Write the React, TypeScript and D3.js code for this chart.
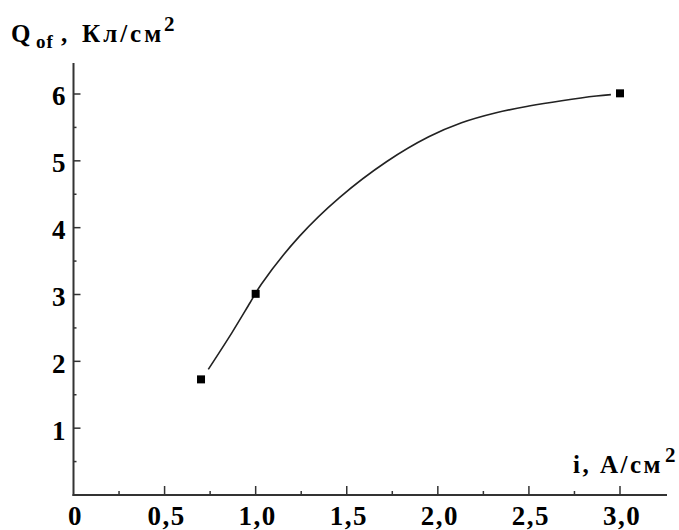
import * as d3 from "d3"

// measured points (markers)
const pointI = [0.7, 1.0, 3.0]
const pointQ = [1.73, 3.01, 6.01]

// fitted curve
const curveI = [0.74, 0.87, 0.97, 1.03, 1.24, 1.46, 1.72, 1.95, 2.13, 2.32, 2.5, 2.68, 2.87, 2.95]
const curveQ = [1.88, 2.43, 2.88, 3.15, 3.87, 4.45, 4.99, 5.36, 5.57, 5.72, 5.82, 5.9, 5.97, 5.99]

const xTicks = [0, 0.5, 1.0, 1.5, 2.0, 2.5, 3.0]
const xTickLabels = ["0", "0,5", "1,0", "1,5", "2,0", "2,5", "3,0"]
const yTicks = [1, 2, 3, 4, 5, 6]

const W = 679
const H = 530
const font = "'Liberation Serif', 'Times New Roman', serif"

export default function App() {
  const x = d3.scaleLinear().domain([0, 3]).range([73.5, 620])
  const y = d3.scaleLinear().domain([0, 6]).range([495, 94])

  const x0 = x(0)
  const y0 = y(0)
  const xEnd = 667
  const yTop = 63

  const minorX = d3.range(0.25, 3.25, 0.5)
  const minorY = d3.range(0.5, 6.5, 1)

  const line = d3
    .line<[number, number]>()
    .x((d) => x(d[0]))
    .y((d) => y(d[1]))
    .curve(d3.curveCatmullRom.alpha(0.5))

  const curve = curveI.map((v, i) => [v, curveQ[i]] as [number, number])
  const axisColor = "#333"

  return (
    <svg
      width={W}
      height={H}
      style={{ position: "absolute", left: 0, top: 0, background: "#fff" }}
      fontFamily={font}
      fontWeight="bold"
    >
      {/* axes */}
      <line x1={x0} x2={x0} y1={yTop} y2={y0 + 1} stroke={axisColor} strokeWidth={2} />
      <line x1={x0 - 1} x2={xEnd} y1={y0} y2={y0} stroke={axisColor} strokeWidth={2} />

      {yTicks.map((t) => (
        <g key={"y" + t}>
          <line x1={x0} x2={x0 + 7} y1={y(t)} y2={y(t)} stroke={axisColor} strokeWidth={1.5} />
          <text x={x0 - 8} y={y(t)} dy="0.42em" textAnchor="end" fontSize={27}>
            {t}
          </text>
        </g>
      ))}
      {minorY.map((t) => (
        <line key={"ym" + t} x1={x0} x2={x0 + 3} y1={y(t)} y2={y(t)} stroke={axisColor} strokeWidth={1.5} />
      ))}

      {xTicks.map((t, i) => (
        <g key={"x" + t}>
          {t > 0 && (
            <line x1={x(t)} x2={x(t)} y1={y0} y2={y0 - 9} stroke={axisColor} strokeWidth={1.5} />
          )}
          <text x={x(t) + 2} y={525} textAnchor="middle" fontSize={27} letterSpacing={1.5}>
            {xTickLabels[i]}
          </text>
        </g>
      ))}
      {minorX.map((t) => (
        <line key={"xm" + t} x1={x(t)} x2={x(t)} y1={y0} y2={y0 - 4} stroke={axisColor} strokeWidth={1.5} />
      ))}

      {/* curve */}
      <path d={line(curve) ?? ""} fill="none" stroke="#222" strokeWidth={1.6} />

      {/* markers */}
      {pointI.map((v, i) => (
        <rect key={"p" + i} x={x(v) - 4} y={y(pointQ[i]) - 4} width={8} height={8} fill="#000" />
      ))}

      {/* axis titles */}
      <text x={11} y={42} fontSize={25}>Q</text>
      <text x={36} y={48} fontSize={19} letterSpacing={1}>of</text>
      <text x={61} y={42} fontSize={25}>,</text>
      <text x={82} y={42} fontSize={25} letterSpacing={3}>Кл/см</text>
      <text x={164} y={31} fontSize={21}>2</text>

      <text x={573} y={473} fontSize={25} letterSpacing={2.5}>i, А/см</text>
      <text x={665} y={462} fontSize={21}>2</text>
    </svg>
  )
}
